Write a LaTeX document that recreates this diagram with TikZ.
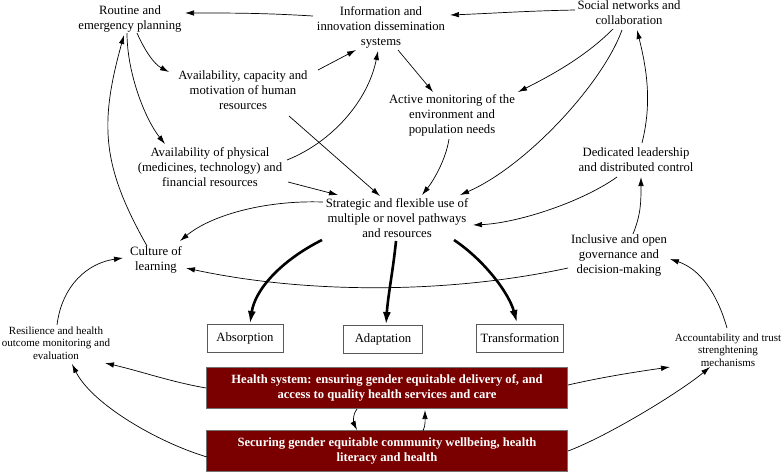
\documentclass[tikz,border=0pt]{standalone}
\usepackage{fontspec}
\setmainfont{Liberation Serif}
\usetikzlibrary{arrows.meta}
\definecolor{maroon}{HTML}{7A0000}
\tikzset{
 lbl/.style={align=center, inner sep=0pt, font=\fontsize{12.7}{15}\selectfont},
 slbl/.style={align=center, inner sep=0pt, font=\fontsize{11}{12.5}\selectfont},
 outbox/.style={draw=black!65, line width=0.7pt, minimum height=28pt, inner xsep=0pt, font=\fontsize{12.7}{15}\selectfont},
 redbox/.style={draw=black!55, line width=0.6pt, fill=maroon, text=white, minimum width=361pt, minimum height=41pt, align=center, inner sep=0pt, font=\bfseries\fontsize{12.6}{15}\selectfont},
 arr/.style={-{Latex[length=9pt,width=5.5pt]}, line width=0.7pt},
 bigarr/.style={-{Latex[length=13pt,width=8pt]}, line width=2.6pt}
}
\begin{document}
\begin{tikzpicture}[x=1pt,y=-1pt]
\useasboundingbox (0,0) rectangle (784,472);
% nodes
\node[lbl] (routine) at (130,19) {Routine and\\emergency planning};
\node[lbl] (info) at (381,27) {Information and\\innovation dissemination\\systems};
\node[lbl] (social) at (629,13) {Social networks and\\collaboration};
\node[lbl] (avcap) at (243,90) {Availability, capacity and\\motivation of human\\resources};
\node[lbl] (active) at (452,115) {Active monitoring of the\\environment and\\population needs};
\node[lbl] (avphys) at (210,167) {Availability of physical\\(medicines, technology) and\\financial resources};
\node[lbl] (dedic) at (636,160) {Dedicated leadership\\and distributed control};
\node[lbl] (strat) at (397,218) {Strategic and flexible use of\\multiple or novel pathways\\and resources};
\node[lbl] (culture) at (156,260) {Culture of\\learning};
\node[lbl] (incl) at (619,255) {Inclusive and open\\governance and\\decision-making};
\node[slbl] (resil) at (56,343) {Resilience and health\\outcome monitoring and\\evaluation};
\node[slbl] (acct) at (728,350) {Accountability and trust\\strenghtening\\mechanisms};
\node[outbox, minimum width=76pt] (absorp) at (245,338) {Absorption};
\node[outbox, minimum width=79pt] (adapt) at (383,339) {Adaptation};
\node[outbox, minimum width=87pt] (transf) at (520,338) {Transformation};
\node[redbox] (health) at (387,388) {Health system: ensuring gender equitable delivery of, and\\access to quality health services and care};
\node[redbox] (secur) at (387,451) {Securing gender equitable community wellbeing, health\\literacy and health};
% thin connectors
\draw[arr] ([shift={(-68,-11)}]info.center) .. controls +(-50,-3) and +(50,0) .. ([shift={(55,-6)}]routine.center);
\draw[arr] ([shift={(-54,-3)}]social.center) .. controls +(-50,1) and +(50,-2) .. ([shift={(69,-12)}]info.center);
\draw[arr] ([shift={(7,14)}]routine.center) .. controls +(8,18) and +(-15,-8) .. ([shift={(-74,-18)}]avcap.center);
\draw[arr] ([shift={(-3,14)}]routine.center) .. controls +(0,40) and +(-20,-25) .. ([shift={(-45,-23)}]avphys.center);
\draw[arr] ([shift={(-9,-14)}]culture.center) .. controls +(-45,-80) and +(-25,90) .. ([shift={(-6,16)}]routine.center);
\draw[arr] ([shift={(75,-20)}]avcap.center) -- ([shift={(-25,23)}]info.center);
\draw[arr] ([shift={(77,-7)}]avphys.center) .. controls +(45,-18) and +(-10,50) .. ([shift={(-3,24)}]info.center);
\draw[arr] ([shift={(46,26)}]avcap.center) -- ([shift={(-17,-22)}]strat.center);
\draw[arr] ([shift={(78,15)}]avphys.center) -- ([shift={(-59,-23)}]strat.center);
\draw[arr] ([shift={(17,23)}]info.center) -- ([shift={(-19,-23)}]active.center);
\draw[arr] ([shift={(-16,16)}]social.center) .. controls +(-25,25) and +(40,-20) .. ([shift={(66,-23)}]active.center);
\draw[arr] ([shift={(-7,17)}]social.center) .. controls +(-20,55) and +(65,-28) .. ([shift={(63,-23)}]strat.center);
\draw[arr] ([shift={(-3,24)}]active.center) .. controls +(-3,20) and +(12,-15) .. ([shift={(25,-23)}]strat.center);
\draw[arr] ([shift={(6,-17)}]dedic.center) .. controls +(10,-40) and +(10,40) .. ([shift={(8,17)}]social.center);
\draw[arr] ([shift={(-19,17)}]dedic.center) .. controls +(-35,25) and +(45,-2) .. ([shift={(76,7)}]strat.center);
\draw[arr] ([shift={(14,-21)}]incl.center) .. controls +(8,-20) and +(0,25) .. ([shift={(5,17)}]dedic.center);
\draw[arr] ([shift={(-74,-16)}]strat.center) .. controls +(-60,-2) and +(30,-25) .. ([shift={(24,-19)}]culture.center);
\draw[arr] ([shift={(-51,13)}]incl.center) .. controls +(-120,26) and +(120,26) .. ([shift={(30,8)}]culture.center);
\draw[arr] ([shift={(1,-18)}]resil.center) .. controls +(5,-40) and +(-35,5) .. ([shift={(-33,-2)}]culture.center);
\draw[arr] ([shift={(-1,-22)}]acct.center) .. controls +(-10,-35) and +(30,10) .. ([shift={(51,4)}]incl.center);
\draw[arr] (health.west) .. controls +(-35,-6) and +(35,8) .. ([shift={(49,20)}]resil.center);
\draw[arr] ([shift={(-180,6)}]secur.center) .. controls +(-50,-15) and +(20,40) .. ([shift={(16,21)}]resil.center);
\draw[arr] ([shift={(181,-3)}]health.center) .. controls +(35,-8) and +(-35,5) .. ([shift={(-58,17)}]acct.center);
\draw[arr] ([shift={(181,0)}]secur.center) .. controls +(40,-15) and +(-30,25) .. ([shift={(-18,17)}]acct.center);
\draw[arr] ([shift={(-30,21)}]health.center) .. controls +(-5,6) and +(-3,-6) .. ([shift={(-30,-21)}]secur.center);
\draw[arr] ([shift={(36,-20)}]secur.center) .. controls +(3,-6) and +(0,6) .. ([shift={(38,22)}]health.center);
% thick connectors
\draw[bigarr] ([shift={(-75,22)}]strat.center) .. controls +(-40,20) and +(5,-35) .. ([shift={(5,-14)}]absorp.center);
\draw[bigarr] ([shift={(-1,23)}]strat.center) .. controls +(-3,30) and +(2,-30) .. ([shift={(3,-14)}]adapt.center);
\draw[bigarr] ([shift={(57,22)}]strat.center) .. controls +(30,20) and +(-8,-30) .. ([shift={(-3,-15)}]transf.center);
\end{tikzpicture}
\end{document}
